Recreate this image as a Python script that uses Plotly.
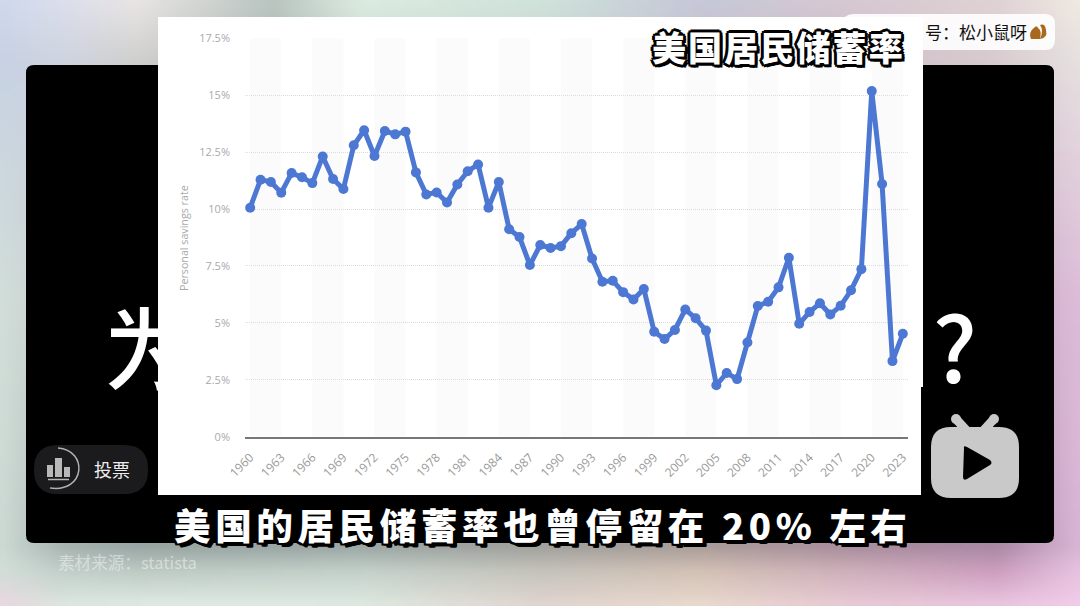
import base64, struct, zlib
import numpy as np
import plotly.graph_objects as go

years = list(range(1960, 2024))
savings_rate = [10.06, 11.29, 11.19, 10.72, 11.58, 11.40, 11.14, 12.31, 11.32, 10.88,
                12.80, 13.46, 12.33, 13.43, 13.28, 13.40, 11.61, 10.64, 10.73, 10.29,
                11.08, 11.66, 11.96, 10.06, 11.19, 9.11, 8.77, 7.54, 8.42, 8.29,
                8.37, 8.94, 9.34, 7.83, 6.81, 6.85, 6.35, 6.03, 6.49, 4.61,
                4.29, 4.69, 5.59, 5.20, 4.66, 2.26, 2.80, 2.53, 4.14, 5.74,
                5.93, 6.56, 7.86, 4.96, 5.48, 5.86, 5.37, 5.75, 6.43, 7.36,
                15.18, 11.10, 3.32, 4.52]
x_ticks = list(range(1960, 2024, 3))
y_ticks = [0, 2.5, 5, 7.5, 10, 12.5, 15, 17.5]
y_labels = ["0%", "2.5%", "5%", "7.5%", "10%", "12.5%", "15%", "17.5%"]

TITLE = "美国居民储蓄率"
SUBTITLE = "美国的居民储蓄率也曾停留在 20% 左右"
HANDLE = "号\uff1a松小鼠呀"
SOURCE = "素材来源\uff1astatista"
VOTE = "投票"
Y_TITLE = "Personal savings rate"

CJK = "Noto Sans CJK SC"
LATIN = "Open Sans"

# ---- soft page background: a few colour stops, stretched by the browser
bg_x = [0, 60, 135, 270, 360, 540, 700, 860, 1000, 1080]
bg_y = [0, 60, 300, 548, 575, 606]
bg = [
    ["#d0d9ec", "#dcdfec", "#e8e4e4", "#b9c5c0", "#dcebe0", "#cfe3da", "#c6c8d8", "#d8c8d2", "#e0d2d4", "#efe9e2"],
    ["#c8d2e4", "#cfd4df", "#cfcfcd", "#b0b5b2", "#c8d8d0", "#c8d0d0", "#c8c0c8", "#d0c0c8", "#d8ccd0", "#e6e0e0"],
    ["#d2ded9", "#c8d0d0", "#c0c8c8", "#b8c0c0", "#bcc4c4", "#c4c0c4", "#c8b8c0", "#ccb4c4", "#c8a8c4", "#dcbcd8"],
    ["#ccd8d2", "#a8b4b0", "#98a4a2", "#98a4a2", "#9aa6a4", "#a0a09c", "#a89c98", "#a88c9c", "#a888a4", "#d8b4d4"],
    ["#d2ded8", "#c4d0cc", "#bfccc6", "#c2cfc8", "#c5d2cb", "#c6c4bc", "#d4c2b6", "#cfb0bc", "#ce9fc0", "#e6c2e0"],
    ["#e8d8e0", "#dbe6de", "#dce8e0", "#dde9e1", "#dce8df", "#e0d4d0", "#e8d8cc", "#e6c8d4", "#e8c4de", "#f0cce8"],
]


def rgb(h):
    return [int(h[i:i + 2], 16) for i in (1, 3, 5)]


def bg_png():
    w, h = 135, 76
    grid = np.array([[rgb(c) for c in row] for row in bg], dtype=float)
    xs, ys = np.linspace(0, 1080, w), np.linspace(0, 606, h)
    by_col = np.stack([[np.interp(xs, bg_x, grid[r, :, k]) for k in range(3)] for r in range(len(bg_y))])
    out = np.zeros((h, w, 3), dtype=np.uint8)
    for k in range(3):
        for c in range(w):
            out[:, c, k] = np.interp(ys, bg_y, by_col[:, k, c]).astype(np.uint8)
    raw = b"".join(b"\x00" + out[r].tobytes() for r in range(h))

    def chunk(t, d):
        return struct.pack(">I", len(d)) + t + d + struct.pack(">I", zlib.crc32(t + d) & 0xffffffff)
    data = b"\x89PNG\r\n\x1a\n" + chunk(b"IHDR", struct.pack(">IIBBBBB", w, h, 8, 2, 0, 0, 0)) \
        + chunk(b"IDAT", zlib.compress(raw)) + chunk(b"IEND", b"")
    return "data:image/png;base64," + base64.b64encode(data).decode()


def rrect(x0, y0, x1, y1, r):
    return (f"M{x0 + r},{y0} L{x1 - r},{y0} Q{x1},{y0} {x1},{y0 + r} L{x1},{y1 - r} Q{x1},{y1} {x1 - r},{y1} "
            f"L{x0 + r},{y1} Q{x0},{y1} {x0},{y1 - r} L{x0},{y0 + r} Q{x0},{y0} {x0 + r},{y0} Z")


def page_shape(path, fill, line=None, width=0):
    return dict(type="path", path=path, xref="x", yref="y", layer="below", fillcolor=fill,
                line=dict(color=line or "rgba(0,0,0,0)", width=width))


def dot(cx, cy, r, fill):
    return dict(type="circle", xref="x", yref="y", layer="below", x0=cx - r, x1=cx + r, y0=cy - r, y1=cy + r,
                fillcolor=fill, line=dict(width=0))


shapes = [
    page_shape(rrect(26, 65, 1054, 543, 8), "#000000"),
    page_shape(rrect(34, 445, 148, 494, 24), "#1b1b1d"),
    # vote icon
    page_shape("M47,465 H53 V477 H47 Z M55,458 H62 V477 H55 Z M64,467 H70 V477 H64 Z", "#b8b8b8"),
    page_shape("M48,479.5 H69", "rgba(0,0,0,0)", "#b8b8b8", 1.5),
    page_shape("M58,448 C88,450 86,493 50,488", "rgba(0,0,0,0)", "#b0b0b0", 1.5),
    # player logo
    page_shape("M956,419 L967,431", "rgba(0,0,0,0)", "#c9c9c9", 9),
    page_shape("M994,419 L983,431", "rgba(0,0,0,0)", "#c9c9c9", 9),
    dot(956, 419, 5, "#c9c9c9"),
    dot(994, 419, 5, "#c9c9c9"),
    page_shape(rrect(931, 427, 1019, 498, 20), "#c9c9c9"),
    page_shape("M964,448 Q963,445 967,447 L990,460 Q993,463 990,465 L967,479 Q963,481 963,477 Z", "#000000"),
    # handle pill, above the card
    dict(type="path", path=rrect(843, 14, 1055, 50, 10), xref="x", yref="y", layer="above",
         fillcolor="rgba(255,255,255,0.9)", line=dict(width=0)),
    # squirrel badge in the pill
    dict(type="path", path="M1031,39 Q1028,32 1035,27 Q1037,25 1038,28 Q1042,30 1040,39 Z M1040,39 Q1048,38 1046,30 Q1045,23 1040,25 Q1044,30 1040,39 Z",
         xref="x", yref="y", layer="above", fillcolor="#a8691f", line=dict(width=0)),
]

# alternating pale bands of the chart, every second three-year block
for start in x_ticks[::2]:
    shapes.append(dict(type="rect", xref="x2", yref="y2", layer="below", x0=start, x1=start + 3,
                       y0=0, y1=y_ticks[-1], fillcolor="#fbfbfb", line=dict(width=0)))

fig = go.Figure()
# big caption that the white card hides most of
fig.add_trace(go.Scatter(x=[149, 955], y=[360, 360], mode="text", text=["为", "?"],
                         textfont=dict(family=CJK, size=90, color="#ffffff", weight=500),
                         hoverinfo="skip", showlegend=False, xaxis="x", yaxis="y"))
# white card
fig.add_trace(go.Scatter(x=[158, 923, 923, 921, 921, 158, 158], y=[17, 17, 387, 387, 495, 495, 17],
                         mode="lines", fill="toself", fillcolor="#ffffff", line=dict(width=0),
                         hoverinfo="skip", showlegend=False, xaxis="x", yaxis="y"))
# data line
fig.add_trace(go.Scatter(x=years, y=savings_rate, mode="lines+markers",
                         line=dict(color="#4c78d3", width=5), marker=dict(color="#4c78d3", size=10),
                         showlegend=False, cliponaxis=False, xaxis="x2", yaxis="y2"))

OUT = ",".join(f"{a}px {b}px 0 #000" for a, b in
               [(-3, 0), (3, 0), (0, -3), (0, 3), (-2, -2), (2, -2), (-2, 2), (2, 2), (3, 3)])
OUT2 = ",".join(f"{a}px {b}px 0 #000" for a, b in
                [(-2, 0), (2, 0), (0, -2), (0, 2), (-2, -2), (2, -2), (-2, 2), (2, 2), (3, 3), (4, 4), (3, 4), (4, 3)])
HAIR = "\u200a"


def note(text, x, y, size, color, anchor="left", family=CJK, weight=None, shadow=None, angle=0):
    f = dict(family=family, size=size, color=color)
    if weight:
        f["weight"] = weight
    if shadow:
        f["shadow"] = shadow
    return dict(text=text, x=x, y=y, xref="x", yref="y", xanchor=anchor, yanchor="middle", showarrow=False,
                font=f, textangle=angle)


annotations = [
    note(HAIR.join(TITLE), 650, 46, 34, "#ffffff", weight=900, shadow=OUT),
    note((HAIR * 2).join(SUBTITLE), 172, 524, 36.6, "#ffffff", weight=900, shadow=OUT2),
    note(HANDLE, 923, 31, 17, "#111111"),
    note(SOURCE, 56, 562, 16.6, "rgba(255,255,255,0.45)"),
    note(VOTE, 92, 469, 18, "#eeeeee", weight=400),
    note(Y_TITLE, 184, 238, 10.7, "#a8a8a8", anchor="center", family=LATIN, angle=-90),
]

grid = dict(gridcolor="#dcdcdc", griddash="1px,1px", gridwidth=1)
fig.update_layout(
    width=1080, height=606, margin=dict(l=0, r=0, t=0, b=0, pad=0), autosize=False,
    paper_bgcolor="rgba(0,0,0,0)", plot_bgcolor="rgba(0,0,0,0)",
    images=[dict(source=bg_png(), xref="paper", yref="paper", x=0, y=1, sizex=1, sizey=1,
                 xanchor="left", yanchor="top", sizing="stretch", layer="below")],
    shapes=shapes, annotations=annotations, hovermode="closest",
    xaxis=dict(domain=[0, 1], range=[0, 1080], visible=False, fixedrange=True, automargin=False),
    yaxis=dict(domain=[0, 1], range=[606, 0], visible=False, fixedrange=True, automargin=False),
    xaxis2=dict(domain=[245.0 / 1080, 908.0 / 1080], range=[1959.5, 2023.5], anchor="y2", automargin=False,
                tickvals=x_ticks, ticktext=[str(v) for v in x_ticks], tickangle=-45, showgrid=False,
                showline=True, linecolor="#777777", linewidth=2, ticks="",
                ticklabelstandoff=7, tickfont=dict(family=LATIN, size=12, color="#9a9a9a")),
    yaxis2=dict(domain=[(606 - 436.7) / 606, (606 - 38.3) / 606], range=[0, 17.5], anchor="x2", automargin=False,
                tickvals=y_ticks, ticktext=y_labels, zeroline=False, ticks="", showline=False,
                ticklabelstandoff=14, tickfont=dict(family=LATIN, size=11, color="#aaaaaa"), **grid),
)
fig.write_html("out.html", config=dict(displayModeBar=False),
               post_script="document.body.style.margin='0';document.body.style.overflow='hidden';")
